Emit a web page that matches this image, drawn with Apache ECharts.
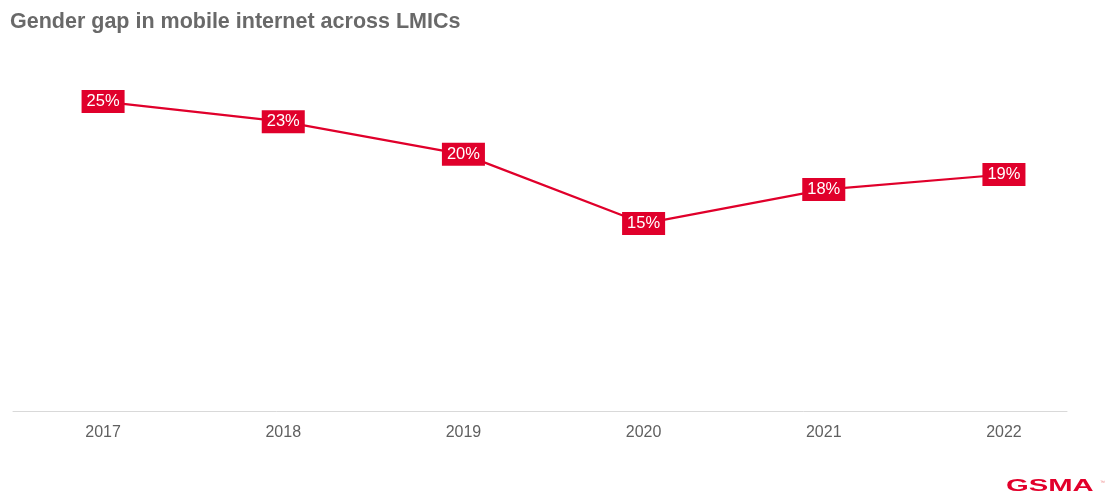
<!DOCTYPE html>
<html>
<head>
<meta charset="utf-8">
<script src="https://cdn.jsdelivr.net/npm/echarts@6/dist/echarts.min.js"></script>
<style>
html,body{margin:0;padding:0;background:#fff;}
#c{width:1112px;height:496px;}
</style>
</head>
<body>
<div id="c"></div>
<script>
const years = [2017, 2018, 2019, 2020, 2021, 2022];
const gapValues = [24.6, 23.0, 20.4, 14.9, 17.6, 18.8];
const labelTexts = ['25%', '23%', '20%', '15%', '18%', '19%'];

const chart = echarts.init(document.getElementById('c'));
const red = '#e0002b';
chart.setOption({
  animation: false,
  backgroundColor: '#fff',
  title: {
    text: 'Gender gap in mobile internet across LMICs',
    left: 5, top: 6,
    textStyle: {fontFamily: 'Liberation Sans', fontWeight: 'bold', fontSize: 21.5, color: '#696969'}
  },
  grid: {left: 13, right: 1112 - 1067, top: 411 - 30 * 12.58, bottom: 85},
  xAxis: {
    type: 'value', min: 2016.5, max: 2022.35,
    axisLine: {show: true, lineStyle: {color: '#d9d9d9', width: 1}},
    axisTick: {show: false},
    splitLine: {show: false},
    axisLabel: {
      customValues: years,
      color: '#606060', fontFamily: 'Liberation Sans', fontSize: 16, margin: 14,
      formatter: v => String(v)
    }
  },
  yAxis: {type: 'value', min: 0, max: 30, show: false, splitLine: {show: false}},
  series: [{
    type: 'line',
    data: years.map((y, i) => [y, gapValues[i]]),
    symbol: 'circle', symbolSize: 2,
    lineStyle: {color: red, width: 2.2},
    itemStyle: {color: red},
    label: {
      show: true, position: 'inside',
      formatter: p => labelTexts[p.dataIndex],
      backgroundColor: red, color: '#fff',
      fontFamily: 'Liberation Sans', fontSize: 16.5,
      padding: [3, 5, 3, 5], lineHeight: 17
    }
  }],
  graphic: [{
    type: 'text', left: 1006, top: 478, scaleX: 1.72,
    style: {text: 'GSMA', fill: '#e2002b', font: 'bold 17px "Liberation Sans"'}
  }, {
    type: 'text', left: 1100, top: 480,
    style: {text: '™', fill: '#e88', font: '5px "Liberation Sans"'}
  }]
});
</script>
</body>
</html>
